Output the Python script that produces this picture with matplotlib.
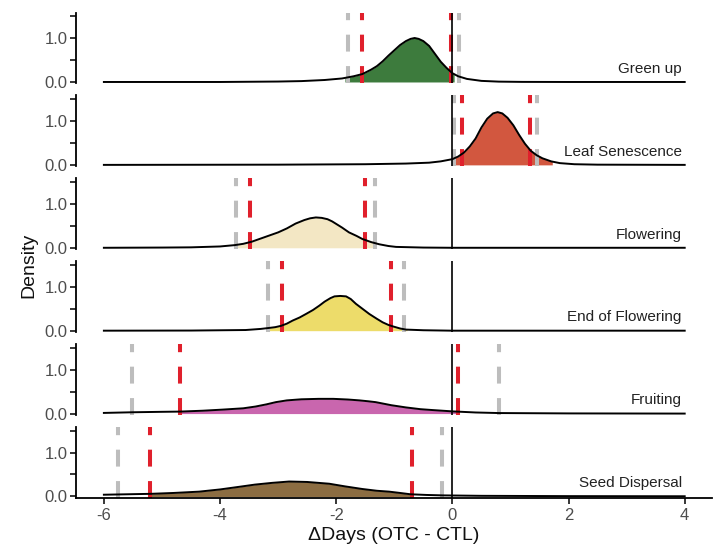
import numpy as np
import matplotlib
matplotlib.use("Agg")
import matplotlib.pyplot as plt

plt.rcParams['font.family'] = ['Liberation Sans', 'DejaVu Sans']

# ---- data ----
phases = ["Green up", "Leaf Senescence", "Flowering",
          "End of Flowering", "Fruiting", "Seed Dispersal"]
fill_colors = ["#3d7b3d", "#d2573f", "#f3e7c4", "#eddc6a", "#c966ae", "#8c6d42"]

green_x = [-6, -4, -3, -2.6, -2.2, -1.9, -1.7, -1.55, -1.4, -1.3, -1.2, -1.1,
           -1.0, -0.9, -0.8, -0.72, -0.65, -0.58, -0.5, -0.4, -0.3, -0.2,
           -0.1, 0.0, 0.1, 0.25, 0.5, 0.8, 1.2, 2, 4]
green_d = [0.0, 0.0, 0.01, 0.02, 0.045, 0.08, 0.13, 0.18, 0.28, 0.36, 0.47, 0.6,
           0.72, 0.84, 0.93, 0.98, 1.0, 0.98, 0.93, 0.82, 0.64, 0.46,
           0.32, 0.2, 0.13, 0.07, 0.025, 0.008, 0.002, 0, 0]

leaf_x = [-6, -3, -1.5, -0.8, -0.4, -0.2, 0.0, 0.1, 0.2, 0.3, 0.4, 0.5, 0.6,
          0.7, 0.78, 0.86, 0.95, 1.05, 1.15, 1.25, 1.35, 1.45, 1.55, 1.7,
          1.85, 2.1, 2.5, 4]
leaf_d = [0, 0.005, 0.015, 0.03, 0.05, 0.08, 0.13, 0.19, 0.28, 0.42, 0.6, 0.85,
          1.05, 1.17, 1.2, 1.17, 1.07, 0.9, 0.68, 0.48, 0.32, 0.22, 0.15, 0.08,
          0.04, 0.015, 0.005, 0]

flow_x = [-6, -5, -4.5, -4, -3.75, -3.6, -3.45, -3.3, -3.15, -3.0, -2.85,
          -2.7, -2.55, -2.45, -2.35, -2.25, -2.15, -2.07, -1.9, -1.78, -1.65,
          -1.55, -1.4, -1.26, -1.1, -0.97, -0.5, 0, 4]
flow_d = [0, 0.005, 0.01, 0.03, 0.06, 0.09, 0.14, 0.21, 0.28, 0.35, 0.44,
          0.55, 0.63, 0.67, 0.69, 0.68, 0.65, 0.6, 0.46, 0.35, 0.27,
          0.2, 0.13, 0.08, 0.04, 0.02, 0.005, 0, 0]

endf_x = [-6, -4.5, -3.56, -3.3, -3.17, -3.05, -2.95, -2.85, -2.75, -2.63,
          -2.52, -2.4, -2.29, -2.2, -2.1, -2.03, -1.93, -1.83, -1.75, -1.66,
          -1.55, -1.43, -1.3, -1.2, -1.1, -1.03, -0.9, -0.8, -0.5, 0, 4]
endf_d = [0, 0.003, 0.015, 0.04, 0.06, 0.08, 0.11, 0.16, 0.23, 0.3,
          0.38, 0.47, 0.57, 0.66, 0.74, 0.78, 0.79, 0.78, 0.72, 0.61,
          0.5, 0.38, 0.27, 0.19, 0.13, 0.1, 0.05, 0.025, 0.01, 0, 0]

fruit_x = [-6, -5.5, -5.0, -4.7, -4.3, -3.96, -3.6, -3.39, -3.2, -3.04, -2.85,
           -2.6, -2.3, -2.05, -1.8, -1.6, -1.45, -1.32, -1.05, -0.8, -0.55,
           -0.34, 0.0, 0.4, 0.8, 2, 4]
fruit_d = [0.015, 0.03, 0.04, 0.045, 0.065, 0.09, 0.12, 0.16, 0.21, 0.26, 0.3,
           0.325, 0.335, 0.335, 0.32, 0.3, 0.28, 0.26, 0.19, 0.14, 0.1,
           0.08, 0.05, 0.025, 0.012, 0.004, 0]

seed_x = [-6, -5.6, -5.2, -4.8, -4.36, -4.0, -3.67, -3.4, -3.1, -2.81, -2.5,
          -2.12, -1.85, -1.55, -1.3, -1.09, -0.9, -0.72, -0.45, -0.17, 0.5, 2, 4]
seed_d = [0.04, 0.05, 0.06, 0.08, 0.11, 0.16, 0.22, 0.27, 0.31, 0.34, 0.33,
          0.29, 0.23, 0.17, 0.13, 0.11, 0.08, 0.05, 0.035, 0.025, 0.015, 0.008, 0.005]

curves_x = [green_x, leaf_x, flow_x, endf_x, fruit_x, seed_x]
curves_d = [green_d, leaf_d, flow_d, endf_d, fruit_d, seed_d]

# shaded part of each density
fill_lo = [-1.85, 0.0, -3.76, -3.19, -4.7, -5.2]
fill_hi = [0.03, 1.72, -1.31, -0.78, 0.06, -0.7]

# interval lines (grey = outer, red = inner)
grey_lo = [-1.79, 0.03, -3.73, -3.17, -5.51, -5.75]
grey_hi = [0.11, 1.45, -1.33, -0.83, 0.81, -0.17]
red_lo = [-1.55, 0.17, -3.48, -2.93, -4.69, -5.2]
red_hi = [-0.02, 1.34, -1.51, -1.05, 0.09, -0.70]

# ---- layout ----
W, H = 716, 548
fig = plt.figure(figsize=(W / 100, H / 100), dpi=100)

left_px, right_px = 76, 712
top0, panel_h, step = 12.5, 70.8, 82.9
xlim = (-6.48, 4.47)
ylim = (-0.03, 1.58)
tick_grey = "#4d4d4d"

for i, name in enumerate(phases):
    top = top0 + step * i
    ax = fig.add_axes([left_px / W, 1 - (top + panel_h) / H,
                       (right_px - left_px) / W, panel_h / H])
    x = np.array(curves_x[i], dtype=float)
    d = np.array(curves_d[i], dtype=float)

    # fill polygon clipped to [lo, hi]
    lo, hi = fill_lo[i], fill_hi[i]
    inside = (x > lo) & (x < hi)
    fx = np.concatenate([[lo], x[inside], [hi]])
    fd = np.concatenate([[np.interp(lo, x, d)], d[inside], [np.interp(hi, x, d)]])
    ax.fill_between(fx, 0, fd, color=fill_colors[i], lw=0, zorder=1)

    ax.plot(x, d, color="black", lw=1.4, zorder=3, solid_joinstyle="round")
    ax.axvline(0, color="black", lw=1.2, zorder=4)

    for xv in (grey_lo[i], grey_hi[i]):
        ax.axvline(xv, color="#bdbdbd", lw=2.9, dashes=(4.2, 3.6), zorder=2)
    for xv in (red_lo[i], red_hi[i]):
        ax.axvline(xv, color="#e0202c", lw=2.9, dashes=(4.2, 3.6), zorder=2)

    ax.text(3.95, 0.3, name, ha="right", va="center", fontsize=11,
            color="#222222", zorder=5)

    ax.set_xlim(*xlim)
    ax.set_ylim(*ylim)
    ax.set_yticks([0, 0.5, 1.0, 1.5])
    ax.set_yticklabels(["0.0", "", "1.0", ""])
    ax.tick_params(axis="y", length=4, width=1.1, colors="black",
                   labelcolor=tick_grey, labelsize=12, pad=2)
    for s in ("top", "right"):
        ax.spines[s].set_visible(False)
    ax.spines["left"].set_linewidth(1.3)
    ax.patch.set_alpha(0)

    if i < len(phases) - 1:
        ax.spines["bottom"].set_visible(False)
        ax.set_xticks([])
    else:
        ax.spines["bottom"].set_linewidth(1.3)
        ax.set_xticks([-6, -4, -2, 0, 2, 4])
        ax.set_xticklabels(["-6", "-4", "-2", "0", "2", "4"])
        ax.tick_params(axis="x", length=4, width=1.1, colors="black",
                       labelcolor=tick_grey, labelsize=12, pad=3)
        ax.set_xlabel("\u0394Days (OTC - CTL)", fontsize=14, color="#111111",
                      labelpad=3)

fig.text(0.04, 0.515, "Density", rotation=90, ha="center", va="center",
         fontsize=14, color="#111111")

fig.savefig("out.png", dpi=100)
